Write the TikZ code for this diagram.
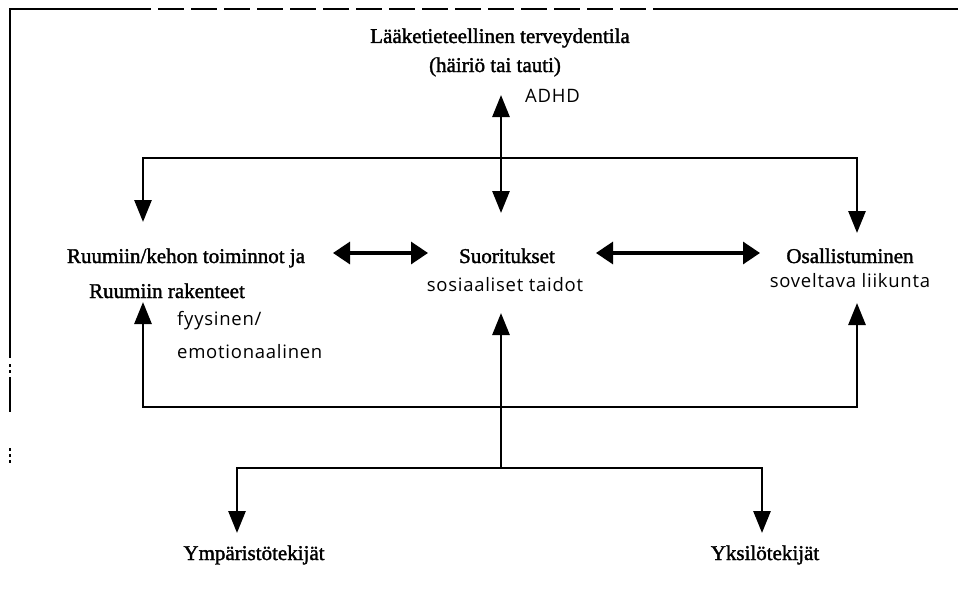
\documentclass[tikz,border=0pt]{standalone}
\usepackage{fontspec}
\setmainfont{Liberation Serif}[BoldFont={Liberation Serif}, BoldFeatures={FakeBold=1.6}]
\newfontfamily\labelsans{Open Sans}[LetterSpace=4]
\usetikzlibrary{arrows.meta}
\tikzset{
  lab/.style={font=\bfseries\fontsize{21}{25}\selectfont, inner sep=0pt, anchor=base},
  sub/.style={font=\labelsans\fontsize{18.5}{22}\selectfont, inner sep=0pt, anchor=base},
  conn/.style={line width=2.8pt},
  varrow/.style={conn, -{Triangle[length=22pt,width=17pt]}},
  vdouble/.style={conn, {Triangle[length=22pt,width=17pt]}-{Triangle[length=22pt,width=17pt]}},
  harrow/.style={line width=3.2pt, {Triangle[length=17pt,width=22pt]}-{Triangle[length=17pt,width=22pt]}},
  framepart/.style={line width=1.4pt}
}
\begin{document}
\begin{tikzpicture}[x=1pt,y=-1pt]
\useasboundingbox (0,0) rectangle (958,610);
% frame remnants
\coordinate (f1) at (10,9);
\coordinate (f2) at (125,9);
\coordinate (f3) at (670,9);
\coordinate (f4) at (958,9);
\coordinate (f5) at (10,358);
\coordinate (f6) at (10,377);
\coordinate (f7) at (10,412);
\draw[framepart] (f2) -- (f1) -- (f5);
\draw[framepart, dash pattern=on 26pt off 7pt] (f2) -- (f3);
\draw[framepart] (f3) -- (f4);
\draw[framepart] (f6) -- (f7);
\draw[framepart, dash pattern=on 3pt off 3pt] (10,364) -- (10,375);
\draw[framepart, dash pattern=on 3pt off 3pt] (10,448) -- (10,464);
\draw[line width=2.4pt] (10,22) -- (10,40);

% texts
\node[lab] (title1) at (500,43) {Lääketieteellinen terveydentila};
\node[lab] (title2) at (495,72) {(häiriö tai tauti)};
\node[sub, anchor=base west] (adhd) at (525,102) {ADHD};
\node[lab] (body1) at (186,263) {Ruumiin/kehon toiminnot ja};
\node[lab] (body2) at (167,298) {Ruumiin rakenteet};
\node[sub, anchor=base west] (fyys) at (177,325) {fyysinen/};
\node[sub, anchor=base west] (emot) at (177,358) {emotionaalinen};
\node[lab] (suor) at (507,263) {Suoritukset};
\node[sub] (sos) at (505,291) {sosiaaliset taidot};
\node[lab] (osal) at (850,263) {Osallistuminen};
\node[sub] (sov) at (850,287) {soveltava liikunta};
\node[lab] (ymp) at (254,560) {Ympäristötekijät};
\node[lab] (yks) at (765,560) {Yksilötekijät};

% connector coordinates
\coordinate (adhdTip) at (501,95);
\coordinate (suoTop) at (501,213);
\coordinate (jTM) at (501,158);
\coordinate (lDown) at (143,222);
\coordinate (rDown) at (857,233);
\coordinate (hl1) at (333,253);
\coordinate (hl2) at (428,253);
\coordinate (hr1) at (596,253);
\coordinate (hr2) at (760,253);
\coordinate (jBM) at (501,407);
\coordinate (lUp) at (143,302);
\coordinate (rUp) at (857,303);
\coordinate (mUp) at (501,313);
\coordinate (jLow) at (501,468);
\coordinate (ympTip) at (237,533);
\coordinate (yksTip) at (762,533);

% connectors
\draw[vdouble] (adhdTip) -- (suoTop);
\draw[varrow] (jTM) -| (lDown);
\draw[varrow] (jTM) -| (rDown);
\draw[harrow] (hl1) -- (hl2);
\draw[harrow] (hr1) -- (hr2);
\draw[varrow] (jBM) -| (lUp);
\draw[varrow] (jBM) -| (rUp);
\draw[varrow] (jLow) -- (mUp);
\draw[varrow] (jLow) -| (ympTip);
\draw[varrow] (jLow) -| (yksTip);
\end{tikzpicture}
\end{document}
